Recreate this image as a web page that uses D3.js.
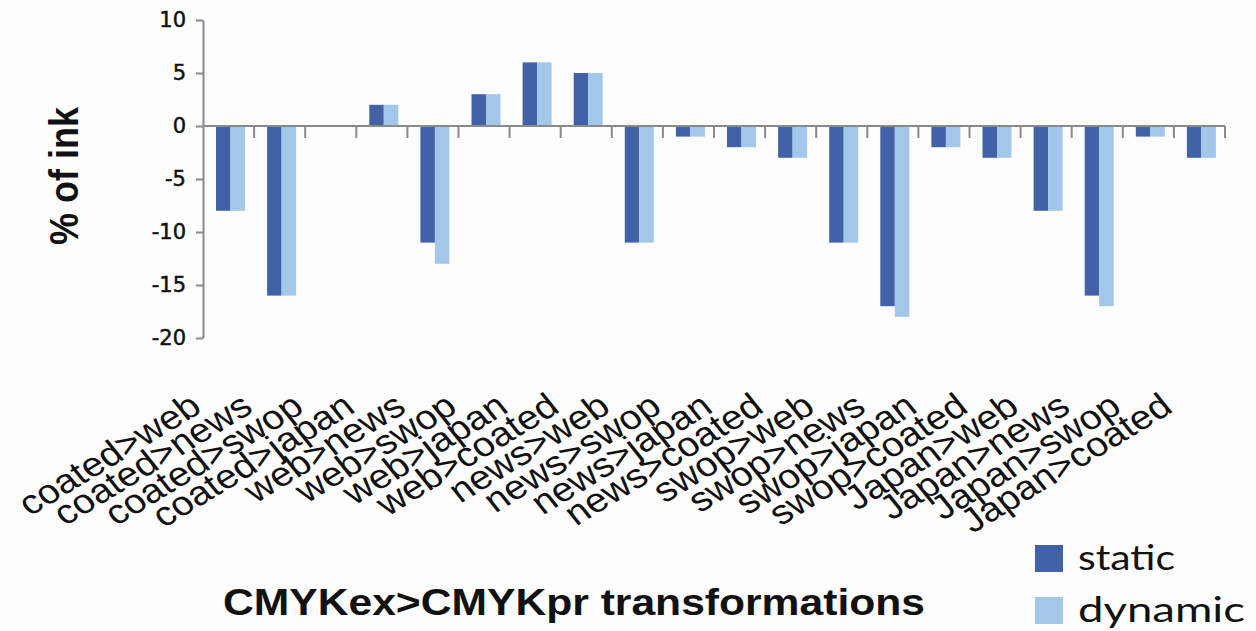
<!DOCTYPE html>
<html>
<head>
<meta charset="utf-8">
<script src="https://cdn.jsdelivr.net/npm/d3@7"></script>
<style>
  html, body { margin: 0; padding: 0; background: #fdfdfd; }
  svg { display: block; }
</style>
</head>
<body>
<svg id="chart" width="1256" height="631"></svg>
<script>
const categories = ["coated>web","coated>news","coated>swop","coated>japan","web>news","web>swop","web>japan","web>coated","news>web","news>swop","news>japan","news>coated","swop>web","swop>news","swop>japan","swop>coated","Japan>web","Japan>news","Japan>swop","Japan>coated"];
const seriesNames = ["static","dynamic"];
const staticValues = [-8,-16,0,2,-11,3,6,5,-11,-1,-2,-3,-11,-17,-2,-3,-8,-16,-1,-3];
const dynamicValues = [-8,-16,0,2,-13,3,6,5,-11,-1,-2,-3,-11,-18,-2,-3,-8,-17,-1,-3];
const yTickValues = [10,5,0,-5,-10,-15,-20];
const yTitle = "% of ink";
const xTitle = "CMYKex>CMYKpr transformations";

const colors = { static: "#4262a8", dynamic: "#a2c7e8" };
const axisColor = "#8a8a8a";

const svg = d3.select("#chart");
svg.append("rect").attr("width",1256).attr("height",631).attr("fill","#fdfdfd");

const x0 = d3.scaleBand().domain(categories).range([203,1225]).padding(0);
const x1 = d3.scaleBand().domain(seriesNames).range([13,42]).padding(0);
const y = d3.scaleLinear().domain([-20,10]).range([338,20]);

const rows = categories.map((c,i)=>({cat:c, values:[{s:"static",v:staticValues[i]},{s:"dynamic",v:dynamicValues[i]}]}));

// bars
const groups = svg.append("g").selectAll("g").data(rows).join("g")
  .attr("transform", d=>`translate(${x0(d.cat)},0)`);
groups.selectAll("rect").data(d=>d.values.filter(e=>e.v!==0)).join("rect")
  .attr("x", e=>x1(e.s))
  .attr("width", x1.bandwidth())
  .attr("y", e=>Math.min(y(e.v), y(0)))
  .attr("height", e=>Math.abs(y(e.v)-y(0)))
  .attr("fill", e=>colors[e.s]);

// y axis
const yAxis = svg.append("g").attr("transform","translate(203,0)")
  .call(d3.axisLeft(y).tickValues(yTickValues).tickSize(7).tickSizeOuter(0).tickPadding(10).tickFormat(d=>String(d)));
yAxis.select(".domain").attr("stroke",axisColor).attr("stroke-width",2);
yAxis.selectAll(".tick line").attr("stroke",axisColor).attr("stroke-width",2);
yAxis.selectAll(".tick text").attr("font-family","DejaVu Sans, Verdana, sans-serif").attr("font-size",21)
  .attr("fill","#111").attr("stroke","#111").attr("stroke-width",0.5);

// x axis line at zero with boundary ticks
const xAxisG = svg.append("g").attr("transform",`translate(0,${y(0)})`);
xAxisG.append("line").attr("x1",x0.range()[0]).attr("x2",x0.range()[1]).attr("y1",0).attr("y2",0)
  .attr("stroke",axisColor).attr("stroke-width",2);
xAxisG.selectAll("line.tk").data(categories).join("line").attr("class","tk")
  .attr("x1",d=>x0(d)+x0.bandwidth()).attr("x2",d=>x0(d)+x0.bandwidth())
  .attr("y1",0).attr("y2",12).attr("stroke",axisColor).attr("stroke-width",2);

// category labels
svg.append("g").selectAll("text").data(categories).join("text")
  .attr("transform", d=>`translate(${x0(d)+x0.bandwidth()/2-25},411) scale(1.15,1) rotate(-35)`)
  .attr("text-anchor","end")
  .attr("font-family","Liberation Sans, Arial, sans-serif")
  .attr("font-size",34)
  .attr("fill","#111")
  .text(d=>d);

// y title
svg.append("text").attr("transform","translate(78,176) scale(1.15,1) rotate(-90)")
  .attr("text-anchor","middle").attr("font-family","Liberation Sans, Arial, sans-serif")
  .attr("font-weight","bold").attr("font-size",36).attr("fill","#111").text(yTitle);

// x title
svg.append("text").attr("x",223).attr("y",615)
  .attr("font-family","Liberation Sans, Arial, sans-serif")
  .attr("font-weight","bold").attr("font-size",37).attr("fill","#111")
  .attr("textLength",702).attr("lengthAdjust","spacingAndGlyphs").text(xTitle);

// legend
const legend = svg.append("g");
const legY = [545, 597];
const legW = [97, 167];
seriesNames.forEach((s,i)=>{
  legend.append("rect").attr("x",1035).attr("y",legY[i]).attr("width",28).attr("height",27).attr("fill",colors[s]);
  legend.append("text").attr("x",1078).attr("y",legY[i]+25)
    .attr("font-family","Lato, Open Sans, sans-serif").attr("font-size",35).attr("fill","#111")
    .attr("textLength",legW[i]).attr("lengthAdjust","spacingAndGlyphs").text(s);
});
</script>
</body>
</html>
